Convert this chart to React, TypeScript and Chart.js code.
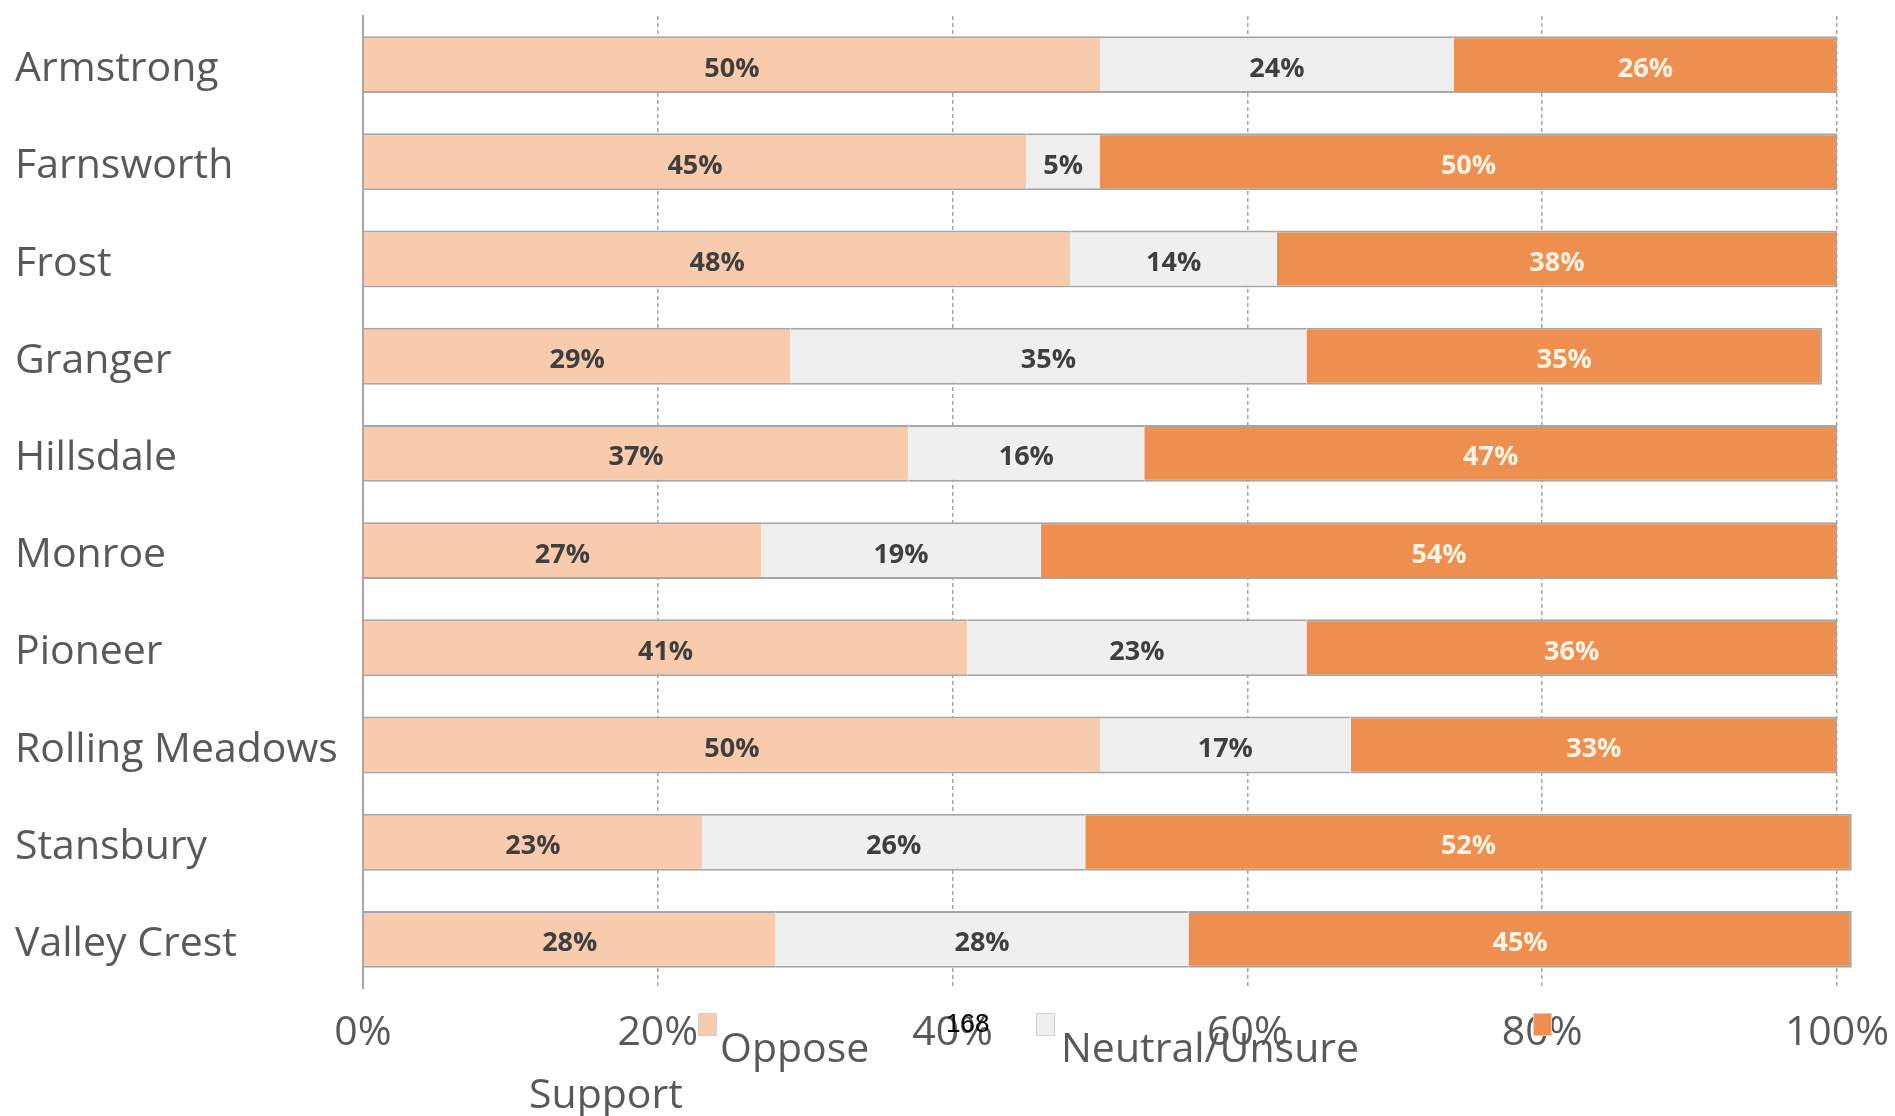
import React, { useEffect, useRef } from "react";
import { Chart, registerables } from "chart.js";

Chart.register(...registerables);

// ---- data ----
const categories = [
  "Armstrong",
  "Farnsworth",
  "Frost",
  "Granger",
  "Hillsdale",
  "Monroe",
  "Pioneer",
  "Rolling Meadows",
  "Stansbury",
  "Valley Crest",
];
const seriesNames = ["Oppose", "Neutral/Unsure", "Support"];
const oppose = [50, 45, 48, 29, 37, 27, 41, 50, 23, 28];
const neutral = [24, 5, 14, 35, 16, 19, 23, 17, 26, 28];
const support = [26, 50, 38, 35, 47, 54, 36, 33, 52, 45];
const xTickValues = [0, 20, 40, 60, 80, 100];
const strayText = "168";

// ---- styles ----
const W = 1895;
const H = 1116;
const FONT = "'Open Sans', 'DejaVu Sans', sans-serif";
const TEXT_GRAY = "#595959";
const fills = ["#F8CBAD", "#EFEFEF", "#EF8F4F"];
const labelColors = ["#3F3F3F", "#3F3F3F", "#FFF4E4"];
const BAR_EDGE = "#A6A6A6";

const segmentLabels = {
  id: "segmentLabels",
  afterDatasetsDraw(chart: any) {
    const ctx = chart.ctx;
    chart.data.datasets.forEach((ds: any, di: number) => {
      const meta = chart.getDatasetMeta(di);
      meta.data.forEach((el: any, i: number) => {
        const { x, y, base } = el.getProps(["x", "y", "base"], true);
        ctx.save();
        ctx.font = `bold 27px ${FONT}`;
        ctx.fillStyle = labelColors[di];
        ctx.textAlign = "center";
        ctx.textBaseline = "alphabetic";
        ctx.fillText(`${ds.data[i]}%`, (x + base) / 2, y + 12);
        ctx.restore();
      });
    });
  },
};

// legend layout (as seen in the reference: keys on one row, texts shifted)
const legendKeyX = [698, 1036, 1533];
const legendKeyY = 1013;
const legendTextPos = [
  [720, 1062],
  [1061, 1062],
  [529, 1108],
];

const oddLegend = {
  id: "oddLegend",
  afterDraw(chart: any) {
    const ctx = chart.ctx;
    ctx.save();
    chart.data.datasets.forEach((ds: any, i: number) => {
      ctx.fillStyle = ds.backgroundColor;
      ctx.fillRect(legendKeyX[i], legendKeyY, 19, 23);
      ctx.strokeStyle = "#D2D2D2";
      ctx.lineWidth = 1;
      ctx.strokeRect(legendKeyX[i] + 0.5, legendKeyY + 0.5, 18, 22);
    });
    ctx.font = `41px ${FONT}`;
    ctx.fillStyle = TEXT_GRAY;
    ctx.textAlign = "left";
    ctx.textBaseline = "alphabetic";
    chart.data.datasets.forEach((ds: any, i: number) => {
      ctx.fillText(ds.label, legendTextPos[i][0], legendTextPos[i][1]);
    });
    ctx.font = "26px 'Liberation Sans', Arial, sans-serif";
    ctx.fillStyle = "#000000";
    ctx.fillText(strayText, 946, 1032);
    ctx.restore();
  },
};

export default function App() {
  const ref = useRef<HTMLCanvasElement | null>(null);

  useEffect(() => {
    if (!ref.current) return;
    const seriesData = [oppose, neutral, support];
    const chart = new Chart(ref.current, {
      type: "bar",
      data: {
        labels: categories,
        datasets: seriesData.map((d, i) => ({
          label: seriesNames[i],
          data: d,
          backgroundColor: fills[i],
          borderColor: BAR_EDGE,
          borderWidth: { top: 2, bottom: 2, left: 0, right: i === 2 ? 2 : 0 },
          borderSkipped: false,
          categoryPercentage: 1,
          barPercentage: 0.585,
          clip: false as any,
        })),
      },
      options: {
        indexAxis: "y",
        responsive: false,
        animation: false,
        events: [],
        layout: { padding: { top: 16, left: 15, right: 58, bottom: 0 } },
        plugins: {
          legend: { display: false },
          tooltip: { enabled: false },
          title: { display: false },
        },
        scales: {
          x: {
            type: "linear",
            stacked: true,
            min: 0,
            max: 100,
            afterBuildTicks: (axis: any) => {
              axis.ticks = xTickValues.map((v) => ({ value: v }));
            },
            afterFit: (scale: any) => {
              scale.height = 128;
              scale.paddingLeft = 0;
              scale.paddingRight = 0;
            },
            ticks: {
              callback: (v: any) => `${v}%`,
              color: TEXT_GRAY,
              font: { family: FONT, size: 41 },
              padding: 21,
              maxRotation: 0,
            },
            grid: {
              color: "#A6A6A6",
              lineWidth: 1.5,
              drawTicks: false,
            },
            border: { display: false, dash: [4, 3] },
          },
          y: {
            type: "category",
            stacked: true,
            position: "left",
            afterFit: (scale: any) => {
              scale.width = 348;
              scale.paddingTop = 0;
              scale.paddingBottom = 0;
            },
            ticks: {
              crossAlign: "far",
              color: TEXT_GRAY,
              font: { family: FONT, size: 41 },
              padding: 0,
              labelOffset: 5,
            },
            grid: { display: false, drawTicks: false },
            border: { display: true, color: "#A6A6A6", width: 2 },
          },
        },
      },
      plugins: [segmentLabels, oddLegend],
    });
    return () => chart.destroy();
  }, []);

  return (
    <div
      style={{
        position: "absolute",
        left: 0,
        top: 0,
        width: W,
        height: H,
        background: "#FFFFFF",
      }}
    >
      <canvas ref={ref} width={W} height={H} style={{ width: W, height: H, display: "block" }} />
    </div>
  );
}
